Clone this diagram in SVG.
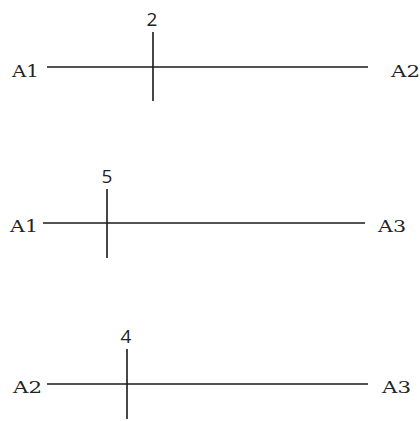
<svg xmlns="http://www.w3.org/2000/svg" width="420" height="421" viewBox="0 0 420 421">
<style>
.ln{stroke:#1a1a1a;stroke-width:1.6;fill:none}
.lbl{font-family:"DejaVu Serif","Liberation Serif",serif;font-size:16px;fill:#222}
.num{font-family:"Open Sans","DejaVu Sans",sans-serif;font-size:19px;fill:#222;text-anchor:middle}
</style>
<rect width="420" height="421" fill="#fff"/>
<g id="connectors">
<line class="ln" x1="47" y1="67" x2="368" y2="67"/>
<line class="ln" x1="153" y1="32" x2="153" y2="101"/>
<line class="ln" x1="43" y1="223" x2="365" y2="223"/>
<line class="ln" x1="107" y1="189" x2="107" y2="258"/>
<line class="ln" x1="47" y1="384" x2="368" y2="384"/>
<line class="ln" x1="127" y1="349" x2="127" y2="419"/>
</g>
<g id="row1">
<text class="lbl" x="12" y="77" textLength="27" lengthAdjust="spacingAndGlyphs">A1</text>
<text class="lbl" x="391" y="77" textLength="29" lengthAdjust="spacingAndGlyphs">A2</text>
<text class="num" x="152" y="26">2</text>
</g>
<g id="row2">
<text class="lbl" x="10" y="232" textLength="28" lengthAdjust="spacingAndGlyphs">A1</text>
<text class="lbl" x="378" y="232" textLength="28" lengthAdjust="spacingAndGlyphs">A3</text>
<text class="num" x="107" y="183">5</text>
</g>
<g id="row3">
<text class="lbl" x="13" y="393" textLength="29" lengthAdjust="spacingAndGlyphs">A2</text>
<text class="lbl" x="382" y="393" textLength="29" lengthAdjust="spacingAndGlyphs">A3</text>
<text class="num" x="126" y="343">4</text>
</g>
</svg>
